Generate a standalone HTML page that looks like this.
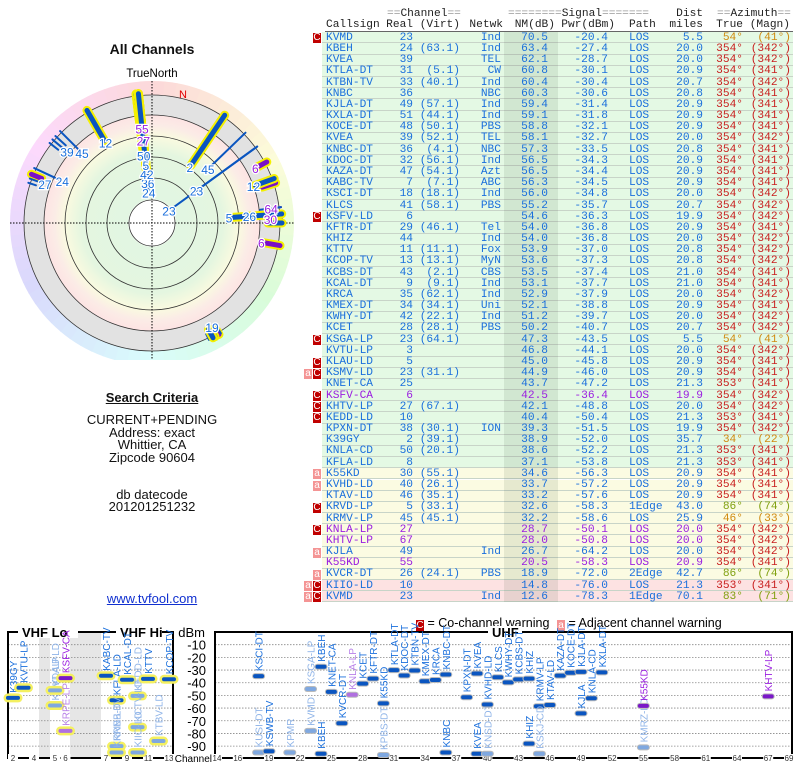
<!DOCTYPE html>
<html><head><meta charset="utf-8">
<style>
body{margin:0;background:#fff;width:800px;height:768px;overflow:hidden;position:relative;font-family:"Liberation Sans",sans-serif}
.t{position:absolute;white-space:pre;font-family:"Liberation Mono",monospace;font-size:11.2px;line-height:11px}
.c{position:absolute;left:0;width:304px;text-align:center;font-size:13px;color:#111;line-height:13px}
.mk{position:absolute;width:8px;height:10px;color:#fff;font-family:"Liberation Sans",sans-serif;font-size:10px;line-height:10px;text-align:center}
</style></head><body>
<div class="c" style="top:43px;font-weight:bold;font-size:14px">All Channels</div>
<svg id="polar" width="304" height="300" style="position:absolute;left:0;top:60px"></svg>
<div class="c" style="top:391px;font-weight:bold"><u>Search Criteria</u></div>
<div class="c" style="top:413px">CURRENT+PENDING</div>
<div class="c" style="top:426px">Address: exact</div>
<div class="c" style="top:438px">Whittier, CA</div>
<div class="c" style="top:451px">Zipcode 90604</div>
<div class="c" style="top:488px">db datecode</div>
<div class="c" style="top:500px">201201251232</div>
<div class="c" style="top:592px;color:#1030d0;text-decoration:underline">www.tvfool.com</div>
<div id="tbl"></div>
<div style="position:absolute;left:416px;top:616px;font-size:12.5px;white-space:nowrap"><span style="display:inline-block;width:8px;height:11px;background:#c00000;color:#fff;font-size:10px;line-height:11px;text-align:center;vertical-align:-1px">C</span> = Co-channel warning</div>
<div style="position:absolute;left:557px;top:616px;font-size:12.5px;white-space:nowrap"><span style="display:inline-block;width:8px;height:11px;background:#f49494;color:#fff;font-size:10px;line-height:11px;text-align:center;vertical-align:-1px">a</span> = Adjacent channel warning</div>
<svg id="spec" width="800" height="150" style="position:absolute;left:0;top:618px"></svg>
<script>
// ---------- table data ----------
const calls=["KVMD","KBEH","KVEA","KTLA-DT","KTBN-TV","KNBC","KJLA-DT","KXLA-DT","KOCE-DT","KVEA","KNBC-DT","KDOC-DT","KAZA-DT","KABC-TV","KSCI-DT","KLCS","KSFV-LD","KFTR-DT","KHIZ","KTTV","KCOP-TV","KCBS-DT","KCAL-DT","KRCA","KMEX-DT","KWHY-DT","KCET","KSGA-LP","KVTU-LP","KLAU-LD","KSMV-LD","KNET-CA","KSFV-CA","KHTV-LP","KEDD-LD","KPXN-DT","K39GY","KNLA-CD","KFLA-LD","K55KD","KVHD-LD","KTAV-LD","KRVD-LP","KRMV-LP","KNLA-LP","KHTV-LP","KJLA","K55KD","KVCR-DT","KIIO-LD","KVMD"];
const reals=[23,24,39,31,33,36,49,51,48,39,36,32,47,7,18,41,6,29,44,11,13,43,9,35,34,42,28,23,3,5,23,25,6,27,10,38,2,50,8,30,40,46,5,45,27,67,49,55,26,10,23];
const virts=["","(63.1)","","(5.1)","(40.1)","","(57.1)","(44.1)","(50.1)","(52.1)","(4.1)","(56.1)","(54.1)","(7.1)","(18.1)","(58.1)","","(46.1)","","(11.1)","(13.1)","(2.1)","(9.1)","(62.1)","(34.1)","(22.1)","(28.1)","(64.1)","","","(31.1)","","","(67.1)","","(30.1)","(39.1)","(20.1)","","(55.1)","(26.1)","(35.1)","(33.1)","(45.1)","","","","","(24.1)","",""];
const netwks=["Ind","Ind","TEL","CW","Ind","NBC","Ind","Ind","PBS","TEL","NBC","Ind","Azt","ABC","Ind","PBS","","Tel","Ind","Fox","MyN","CBS","Ind","Ind","Uni","Ind","PBS","","","","","","","","","ION","","","","","","","","","","","Ind","","PBS","","Ind"];
const nms=[70.5,63.4,62.1,60.8,60.4,60.3,59.4,59.1,58.8,58.1,57.3,56.5,56.5,56.3,56.0,55.2,54.6,54.0,54.0,53.9,53.6,53.5,53.1,52.9,52.1,51.2,50.2,47.3,46.8,45.0,44.9,43.7,42.5,42.1,40.4,39.3,38.9,38.6,37.1,34.6,33.7,33.2,32.6,32.2,28.7,28.0,26.7,20.5,18.9,14.8,12.6];
const pwrs=[-20.4,-27.4,-28.7,-30.1,-30.4,-30.6,-31.4,-31.8,-32.1,-32.7,-33.5,-34.3,-34.4,-34.5,-34.8,-35.7,-36.3,-36.8,-36.8,-37.0,-37.3,-37.4,-37.7,-37.9,-38.8,-39.7,-40.7,-43.5,-44.1,-45.8,-46.0,-47.2,-36.4,-48.8,-50.4,-51.5,-52.0,-52.2,-53.8,-56.3,-57.2,-57.6,-58.3,-58.6,-50.1,-50.8,-64.2,-58.3,-72.0,-76.0,-78.3];
const paths=["LOS","LOS","LOS","LOS","LOS","LOS","LOS","LOS","LOS","LOS","LOS","LOS","LOS","LOS","LOS","LOS","LOS","LOS","LOS","LOS","LOS","LOS","LOS","LOS","LOS","LOS","LOS","LOS","LOS","LOS","LOS","LOS","LOS","LOS","LOS","LOS","LOS","LOS","LOS","LOS","LOS","LOS","1Edge","LOS","LOS","LOS","LOS","LOS","2Edge","LOS","1Edge"];
const dists=[5.5,20.0,20.0,20.9,20.7,20.8,20.9,20.9,20.9,20.0,20.8,20.9,20.9,20.9,20.0,20.7,19.9,20.9,20.0,20.8,20.8,21.0,21.0,20.0,20.9,20.0,20.7,5.5,20.0,20.9,20.9,21.3,19.9,20.0,21.3,19.9,35.7,21.3,21.3,20.9,20.9,20.9,43.0,25.9,20.0,20.0,20.0,20.9,42.7,21.3,70.1];
const azTrue=[54,354,354,354,354,354,354,354,354,354,354,354,354,354,354,354,354,354,354,354,354,354,354,354,354,354,354,54,354,354,354,353,354,354,353,354,34,353,353,354,354,354,86,46,354,354,354,354,86,353,83];
const azMagn=[41,342,342,341,342,341,341,341,341,342,341,341,341,341,342,342,342,341,342,342,342,341,341,342,341,342,342,41,342,341,341,341,342,342,341,342,22,341,341,341,341,341,74,33,342,342,342,341,74,341,71];
const warns=["C","","","","","","","","","","","","","","","","C","","","","","","","","","","","C","","C","aC","","C","C","C","","","","","a","a","","C","","C","","a","","a","aC","aC"];
const purpleRows=[32,44,45,47];
const bands=["g","g","g","g","g","g","g","g","g","g","g","g","g","g","g","g","g","g","g","g","g","g","g","g","g","g","g","g","g","g","g","g","g","g","g","g","g","g","g","y","y","y","y","y","y","y","y","y","y","p","p"];

const tbl=document.getElementById('tbl');
const RH=11.18,TOP=32.3;
function addText(txt,x,y,align,color,name){
  const d=document.createElement('div');d.className='t';d.textContent=txt;
  
  
  d.style.top=y+'px';d.style.color=color;
  if(align==='r'){d.style.right=(800-x)+'px';}else{d.style.left=x+'px';}
  tbl.appendChild(d);return d;
}
const hk='#222';
function hdr(parts,x,y,name){const d=document.createElement('div');d.className='t';d.style.left=x+'px';d.style.top=y+'px';
  
  
  d.innerHTML=parts;tbl.appendChild(d);}
hdr('<span style="color:#999">==</span><span style="color:#222">Channel</span><span style="color:#999">==</span>',387,9,'header-channel-group');
hdr('<span style="color:#999">========</span><span style="color:#222">Signal</span><span style="color:#999">=======</span>',508,9,'header-signal-group');
addText('Dist',703,9,'r',hk,'header-dist');
hdr('<span style="color:#999">==</span><span style="color:#222">Azimuth</span><span style="color:#999">==</span>',717,9,'header-azimuth-group');
addText('Callsign',326,20,'l',hk,'header-callsign');
addText('Real',413,20,'r',hk,'header-real');
addText('(Virt)',460,20,'r',hk,'header-virt');
addText('Netwk',503,20,'r',hk,'header-netwk');
addText('NM(dB)',555,20,'r',hk,'header-nm');
addText('Pwr(dBm)',615,20,'r',hk,'header-pwr');
addText('Path',629,20,'l',hk,'header-path');
addText('miles',703,20,'r',hk,'header-miles');
addText('True',743,20,'r',hk,'header-true');
addText('(Magn)',790,20,'r',hk,'header-magn');
const ul=document.createElement('div');ul.style.cssText='position:absolute;left:325px;top:31px;width:468px;height:1px;background:#666';


tbl.appendChild(ul);
const bgc={g:'#e4f9e4',y:'#fbfbe2',p:'#fde2e2'};
for(let i=0;i<calls.length;i++){
  const y=TOP+i*RH;
  const r=document.createElement('div');
  
  
  r.style.cssText=`position:absolute;left:322px;top:${y}px;width:471px;height:${RH}px;background:${bgc[bands[i]]};border-bottom:1px solid #c8d4c8;box-sizing:border-box`;
  tbl.appendChild(r);
}
const sh=document.createElement('div');sh.style.cssText=`position:absolute;left:504px;top:32px;width:54px;height:${RH*calls.length}px;background:rgba(20,60,20,0.09)`;


tbl.appendChild(sh);
function azCol(a){return (a>=340)?'#c81e1e':(a===86||a===83)?'#80a010':'#d08a10';}
for(let i=0;i<calls.length;i++){
  const y=TOP+i*RH+0.5;
  const col=purpleRows.includes(i)?'#9a1ee0':'#1a6fdc';
  addText(calls[i],326,y,'l',col,'cell-callsign');
  addText(String(reals[i]),413,y,'r',col,'cell-real');
  if(virts[i])addText(virts[i],460,y,'r',col,'cell-virt');
  if(netwks[i])addText(netwks[i],501,y,'r',col,'cell-netwk');
  addText(nms[i].toFixed(1),548,y,'r',col,'cell-nm');
  addText(pwrs[i].toFixed(1),608,y,'r',col,'cell-pwr');
  addText(paths[i],629,y,'l',col,'cell-path');
  addText(dists[i].toFixed(1),703,y,'r',col,'cell-dist');
  addText(azTrue[i]+'°',743,y,'r',azCol(azTrue[i]),'cell-az-true');
  addText('('+azMagn[i]+'°)',791,y,'r',azCol(azTrue[i]),'cell-az-magn');
  const w=warns[i];
  for(let k=0;k<w.length;k++){
    const m=document.createElement('div');m.className='mk';m.textContent=w[w.length-1-k];
    
    
    const isC=w[w.length-1-k]==='C';
    m.style.background=isC?'#c00000':'#f49494';
    m.style.left=(313-k*9)+'px';m.style.top=(y+0.5)+'px';
    tbl.appendChild(m);
  }
}

// ---------- polar chart ----------
const extraAz=[290,292,288,295,310,312,308,315,330,62,70,72,83,85,88,90,100,150,152,148,151,154,149,153];
const extraCh=[27,6,21,24,39,22,36,45,12,6,12,12,64,45,30,8,6,19,8,18,10,40,6,28];
const extraNM=[8,6,4,18,10,8,6,18,22,6,12,8,4,6,5,8,10,4,5,3,4,3,2,2];
const extraPurple=[0,1,0,0,0,0,0,0,0,1,0,1,1,1,1,0,1,0,0,0,0,0,1,0];
const P=document.getElementById('polar');const NS='http://www.w3.org/2000/svg';
const cx=152,cy=163;
function el(t,a,par){const e=document.createElementNS(NS,t);for(const k in a)e.setAttribute(k,a[k]);(par||P).appendChild(e);return e;}
function pt(az,r){const a=(az-90)*Math.PI/180;return [cx+r*Math.cos(a),cy+r*Math.sin(a)];}
function rOf(nm){return Math.max(23,128-1.5*nm);}
for(let a=0;a<360;a+=5){
  const p1=pt(a,142),p2=pt(a+5.5,142);
  const w=el('path',{d:`M${cx},${cy}L${p1[0]},${p1[1]}A142,142 0 0 1 ${p2[0]},${p2[1]}Z`,fill:`hsl(${a},85%,92%)`});
  
  
}
const defs=el('defs',{});
const rg=el('radialGradient',{id:'rg',cx:cx,cy:cy,r:128,gradientUnits:'userSpaceOnUse'},defs);
[[0,'#fff'],[0.18,'#fff'],[0.19,'#e2f6e2'],[0.55,'#e4f6e0'],[0.68,'#fafae0'],[0.76,'#fbece6'],[0.84,'#fde4e4'],[0.845,'#e2e2e2'],[1,'#e2e2e2']].forEach(s=>el('stop',{offset:s[0],'stop-color':s[1]},rg));
const bgc2=el('circle',{cx:cx,cy:cy,r:128,fill:'url(#rg)'});


[23,45,66,87,108,128].forEach(r=>{const c=el('circle',{cx:cx,cy:cy,r:r,fill:'none',stroke:'#333','stroke-width':0.8});
  
  });
const ax1=el('line',{x1:cx-142,y1:cy,x2:cx+142,y2:cy,stroke:'#000','stroke-dasharray':'1.5,1.5','stroke-width':1});


const ax2=el('line',{x1:cx,y1:cy-142,x2:cx,y2:cy+142,stroke:'#000','stroke-dasharray':'1.5,1.5','stroke-width':1});


const tn=el('text',{x:cx,y:17,'text-anchor':'middle','font-size':11.5,'font-family':'Liberation Sans'});tn.textContent='TrueNorth';


const nl=el('text',{x:183,y:38,'text-anchor':'middle','font-size':11,fill:'#e00000','font-family':'Liberation Sans'});nl.textContent='N';


const allAz=azTrue.concat(extraAz),allCh=reals.concat(extraCh),allNM=nms.concat(extraNM);
const allPurple=reals.map((_,i)=>purpleRows.includes(i)?1:0).concat(extraPurple);
const placed=[];
const order=allAz.map((_,i)=>i).sort((a,b)=>allNM[a]-allNM[b]);
for(const i of order){
  const vhf=allCh[i]<=13, r0=rOf(allNM[i]);
  const a=pt(allAz[i],r0),b=pt(allAz[i],130);
  if(vhf){const h=el('line',{x1:a[0],y1:a[1],x2:b[0],y2:b[1],stroke:'#f4f000','stroke-width':9,'stroke-linecap':'round'});
    
    }
  const ln=el('line',{x1:a[0],y1:a[1],x2:b[0],y2:b[1],stroke:allPurple[i]?'#7a10c8':'#0a55c0','stroke-width':vhf?5:2,'stroke-linecap':'round'});
  
  
}
for(let i=0;i<allAz.length;i++){
  const r0=rOf(allNM[i]);const p=pt(allAz[i],r0-2);
  if(placed.some(q=>Math.abs(q[0]-p[0])<9&&Math.abs(q[1]-p[1])<9))continue;
  placed.push(p);
  const t=el('text',{x:p[0],y:p[1]+5,'text-anchor':'middle','font-size':12,fill:allPurple[i]?'#9a1ee0':'#1a6fdc',stroke:'#fff','stroke-width':2.5,'paint-order':'stroke','font-family':'Liberation Sans'});
  t.textContent=allCh[i];
  
  
}

// ---------- spectrum chart ----------
const specCall=["K39GY","KVTU-LP","KRVD-LP","KLAU-LD","KSFV-CA","KRPE-LP","KABC-TV","KFLA-LD","KRNB-TV","KRNB-LD","KCAL-DT","KEDD-LD","KCTV-LD","KIIO-LD","KTTV","KTBV-LD","KCOP-TV",
"KSCI-DT","KUSI-DT","KSWB-TV","KPMR","KSGA-LP","KVMD","KBEH","KBEH","KNET-CA","KVCR-DT","KNLA-LP","KCET","KPBS-DT","KFTR-DT","K55KD","KTLA-DT","KDOC-DT","KTBN-TV","KMEX-DT","KRCA","KNBC-DT","KNBC","KPXN-DT","KVEA","KVEA","KNSD-DT","KVHD-LD","KLCS","KWHY-DT","KCBS-DT","KHIZ","KHIZ","KRMV-LP","KSKJ-CD","KTAV-LD","KAZA-DT","KOCE-DT","KJLA-DT","KJLA","KNLA-CD","KXLA-DT","KMRZ-LD","K55KD","KHTV-LP"];
const specCh=[2,3,5,5,6,6,7,8,8,8,9,10,10,10,11,12,13,
18,18,19,21,23,23,24,24,25,26,27,28,30,29,30,31,32,33,34,35,36,36,38,39,39,40,40,41,42,43,44,44,45,45,46,47,48,49,49,50,51,55,55,67];
const specDbm=[-52,-44,-58,-46,-36.4,-78,-34.5,-53.8,-90,-95,-37.7,-50.4,-75,-95,-37,-86,-37.3,
-34.8,-95,-94,-95,-45,-78,-27.4,-96,-47.2,-72,-49.5,-40.7,-97,-36.8,-56.3,-30.1,-34.3,-30.4,-38.8,-37.9,-33.5,-95,-51.5,-32.7,-96,-96,-57.2,-35.7,-39.7,-37.4,-36.8,-88,-58.6,-96,-57.6,-34.4,-32.1,-31.4,-64.2,-52.2,-31.8,-91,-58.3,-50.8];
const specStyle=["d","d","l","l","p","q","d","d","l","l","d","l","l","l","d","l","d",
"d","l","d","l","l","l","d","d","d","d","q","d","l","d","d","d","d","d","d","d","d","d","d","d","d","l","d","d","d","d","d","d","d","l","d","d","d","d","d","d","d","l","p","p"];
const vhfTicks=[2,4,5,6,7,9,11,13];
const uhfTicks=[14,16,19,22,25,28,31,34,37,40,43,46,49,52,55,58,61,64,67,69];
const dbmTicks=[-10,-20,-30,-40,-50,-60,-70,-80,-90];
const S=document.getElementById('spec');
const OY=618;
function sel(t,a){const e=document.createElementNS(NS,t);for(const k in a)e.setAttribute(k,a[k]);S.appendChild(e);return e;}
function xCh(ch){if(ch<=4)return 13+(ch-2)*10.5;if(ch<=6)return 55+(ch-5)*10.5;if(ch<=13)return 106+(ch-7)*10.5;return 217+(ch-14)*10.4;}
function yDb(d){return 632-OY-d*1.268;}
const g1=sel('rect',{x:39,y:14,width:11,height:126,fill:'#e6e6e6'});
const g2=sel('rect',{x:70,y:14,width:31,height:126,fill:'#e6e6e6'});
dbmTicks.forEach(d=>{
  [[8,173],[215,792]].forEach(s=>{const l=sel('line',{x1:s[0],x2:s[1],y1:yDb(d),y2:yDb(d),stroke:'#888','stroke-dasharray':'1.5,1.5','stroke-width':0.8});
    });
  const t=sel('text',{x:206,y:yDb(d)+5,'text-anchor':'end','font-size':13,'font-family':'Liberation Sans'});t.textContent=d;
  
});
const b1=sel('rect',{x:8,y:14,width:165,height:126,fill:'none',stroke:'#000','stroke-width':2});
const b2=sel('rect',{x:215,y:14,width:577,height:126,fill:'none',stroke:'#000','stroke-width':2});
[['VHF Lo',18,60],['VHF Hi',116,46],['UHF',488,34]].forEach(v=>{
  const r=sel('rect',{x:v[1],y:8,width:v[2],height:12,fill:'#fff'});
  const t=sel('text',{x:v[1]+4,y:19,'font-size':13,'font-weight':'bold','font-family':'Liberation Sans'});t.textContent=v[0];
  
});
const dl=sel('text',{x:205,y:19,'text-anchor':'end','font-size':13,'font-family':'Liberation Sans'});dl.textContent='dBm';

const cl=sel('text',{x:212,y:144,'text-anchor':'end','font-size':10,'font-family':'Liberation Sans'});cl.textContent='Channel';

vhfTicks.concat(uhfTicks).forEach(c=>{
  const x=xCh(c);
  const r=sel('rect',{x:x-5,y:136,width:10,height:8,fill:'#fff'});
  const t=sel('text',{x:x,y:143,'text-anchor':'middle','font-size':8,fill:'#333','font-family':'Liberation Sans'});t.textContent=c;
  
});
const colMap={d:'#0a55c0',l:'#7fa8e0',p:'#7a18c8',q:'#b070e0'};
const txtMap={d:'#1a6fdc',l:'#8fb4e8',p:'#9a1ee0',q:'#b880e8'};
for(let i=0;i<specCall.length;i++){
  const x=xCh(specCh[i]),y=yDb(specDbm[i]),vhf=specCh[i]<=13,w=vhf?14:11;
  if(vhf){const h=sel('rect',{x:x-w/2-2.5,y:y-4.5,width:w+5,height:9,rx:4.5,fill:'#f4f060'});
    }
  else{const s=sel('rect',{x:x-w/2-1,y:y-3,width:w+2,height:6,rx:3,fill:'#bbb'});
    }
  const b=sel('rect',{x:x-w/2,y:y-2,width:w,height:4,rx:2,fill:colMap[specStyle[i]]});
  
  const t=sel('text',{x:0,y:0,transform:`translate(${x+4},${y-5}) rotate(-90)`,'font-size':10,fill:txtMap[specStyle[i]],'font-family':'Liberation Sans'});
  t.textContent=specCall[i];
  
}
</script>
</body></html>
